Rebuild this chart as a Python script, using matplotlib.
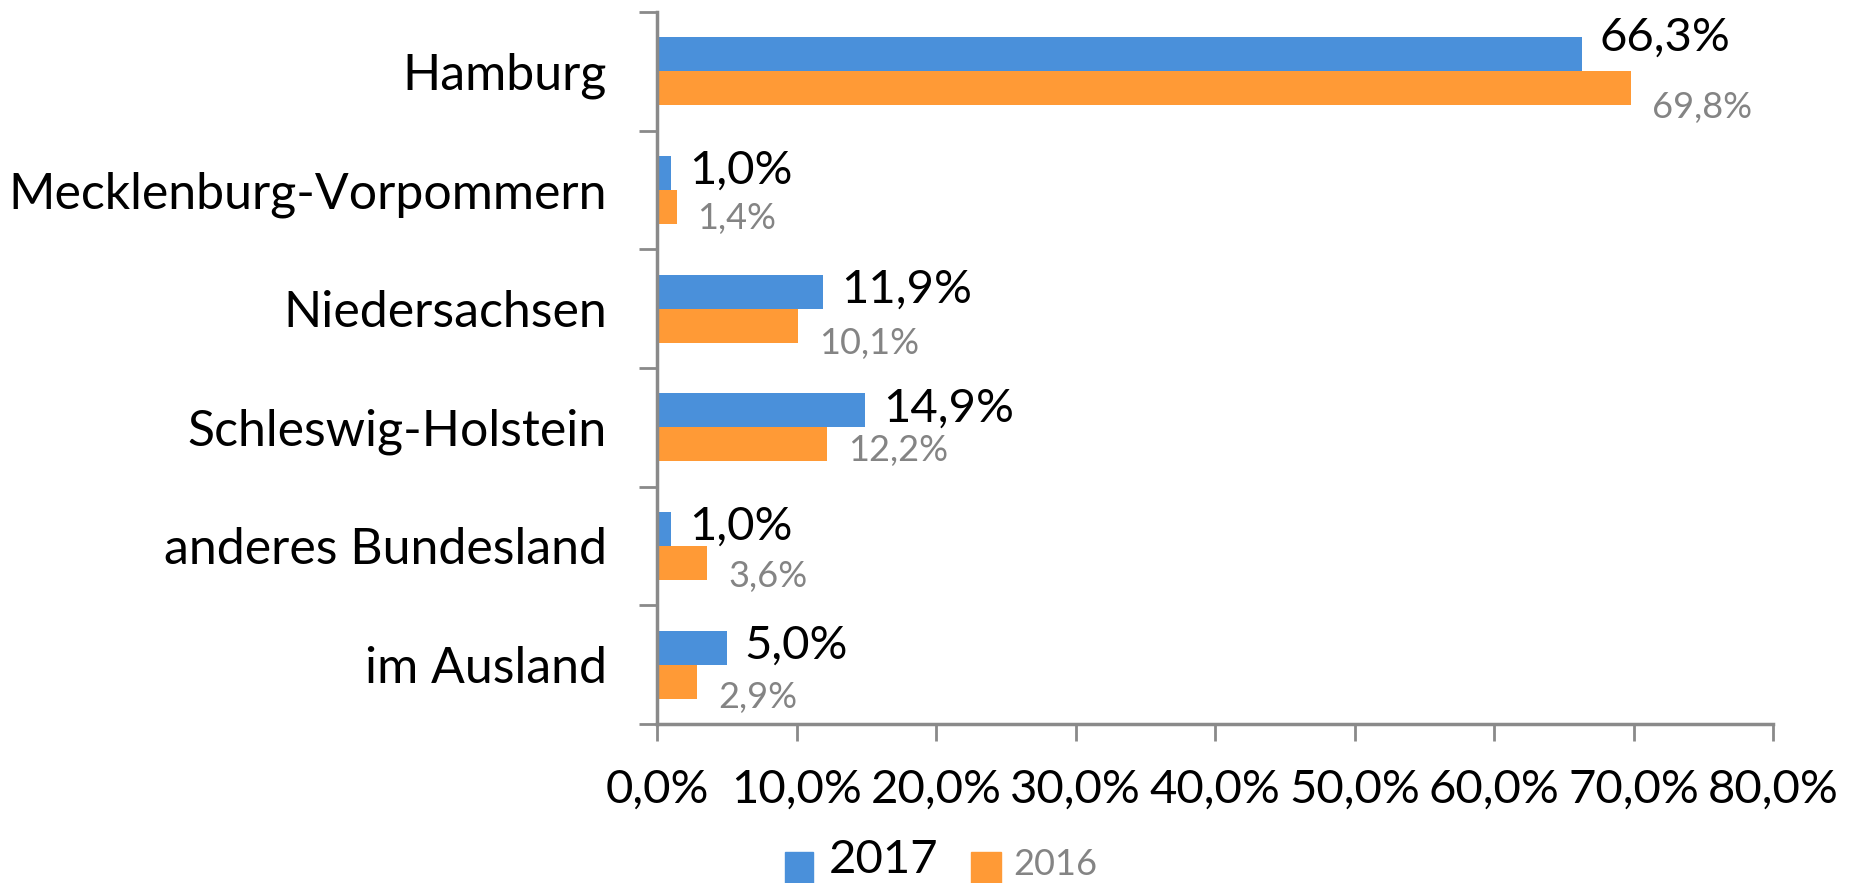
import matplotlib
matplotlib.use("Agg")
import matplotlib.pyplot as plt
from matplotlib.patches import Rectangle
import numpy as np

categories = ["Hamburg", "Mecklenburg-Vorpommern", "Niedersachsen",
              "Schleswig-Holstein", "anderes Bundesland", "im Ausland"]
values_2017 = [66.3, 1.0, 11.9, 14.9, 1.0, 5.0]
values_2016 = [69.8, 1.4, 10.1, 12.2, 3.6, 2.9]
xticks = [0, 10, 20, 30, 40, 50, 60, 70, 80]
series_names = ["2017", "2016"]

# vertical label nudges (pixels, positive = down) as placed in the original
nudge_2017 = [-15, 0, 0, 0, 0, 0]
nudge_2016 = [19, 11, 18, 6, 13, 16]

BLUE = "#4A90DA"
ORANGE = "#FF9A36"
GRAY_TXT = "#848484"
AXIS = "#8A8A8A"
FONT = "Lato"

def fmt(v):
    return f"{v:.1f}".replace(".", ",") + "%"

W, H = 1858, 883
fig = plt.figure(figsize=(W/100, H/100), dpi=100)
ax = fig.add_axes([657/W, 1-724/H, (1773-657)/W, (724-12)/H])

n = len(categories)
y = np.arange(n)
h = 0.287
ax.barh(y - h/2, values_2017, height=h, color=BLUE, zorder=2)
ax.barh(y + h/2, values_2016, height=h, color=ORANGE, zorder=2)

for i in range(n):
    ax.annotate(fmt(values_2017[i]), (values_2017[i], y[i] - h/2),
                xytext=(18, -nudge_2017[i] + 2), textcoords="offset pixels",
                ha="left", va="center", fontsize=34, color="black", family=FONT)
    ax.annotate(fmt(values_2016[i]), (values_2016[i], y[i] + h/2),
                xytext=(21, -nudge_2016[i]), textcoords="offset pixels",
                ha="left", va="center", fontsize=26, color=GRAY_TXT, family=FONT)

ax.set_ylim(n - 0.5, -0.5)
ax.set_xlim(0, 80)
ax.set_xticks(xticks)
ax.set_xticklabels([fmt(v) for v in xticks], fontsize=34, family=FONT)
ax.set_yticks(y)
ax.set_yticklabels(categories, fontsize=36, family=FONT)
ax.yaxis.set_tick_params(length=0, pad=36)
ax.set_yticks(np.arange(n + 1) - 0.5, minor=True)
ax.yaxis.set_tick_params(which="minor", length=13, width=2, color=AXIS)
ax.xaxis.set_tick_params(length=12, width=2, color=AXIS, pad=20)

for s in ["top", "right"]:
    ax.spines[s].set_visible(False)
for s in ["left", "bottom"]:
    ax.spines[s].set_color(AXIS)
    ax.spines[s].set_linewidth(2.5)

# legend
fig.patches.append(Rectangle((785/W, 0), 28/W, 31/H, transform=fig.transFigure,
                             color=BLUE, figure=fig))
fig.text(829/W, 2/H, series_names[0], fontsize=34, family=FONT, color="black",
         ha="left", va="bottom")
fig.patches.append(Rectangle((971/W, 0), 30/W, 31/H, transform=fig.transFigure,
                             color=ORANGE, figure=fig))
fig.text(1013/W, 2/H, series_names[1], fontsize=26, family=FONT, color=GRAY_TXT,
         ha="left", va="bottom")

fig.savefig("out.png", dpi=100, facecolor="white")
